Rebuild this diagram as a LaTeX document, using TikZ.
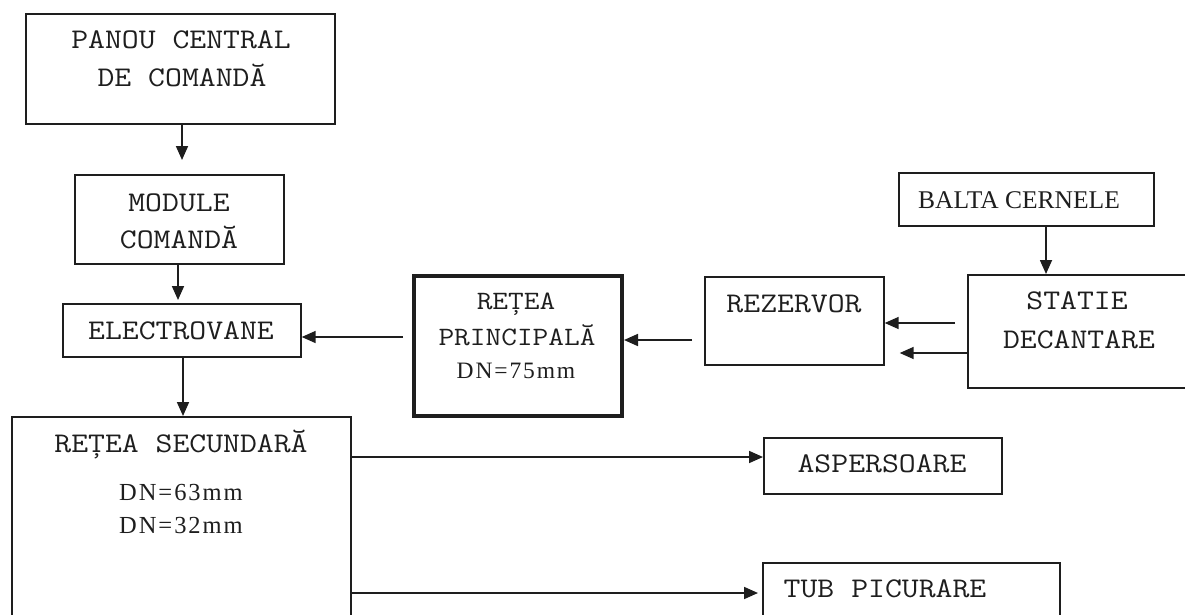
\documentclass[tikz,border=0pt]{standalone}
\usepackage{fontspec}
\setmainfont{Liberation Serif}
\newfontfamily\monof[FakeStretch=1.15]{Latin Modern Mono}
\newfontfamily\dnf[LetterSpace=8]{Liberation Serif}
\usetikzlibrary{arrows.meta}
\definecolor{ink}{HTML}{1E1E1E}
\begin{document}
\begin{tikzpicture}[x=1pt,y=-1pt,
  box/.style={draw=ink, line width=1.7pt, rectangle, inner sep=0pt, anchor=north west},
  thickbox/.style={box, line width=4pt},
  mono/.style={font=\monof\fontsize{#1}{#1}\selectfont, text=ink, inner sep=0pt, anchor=base},
  mono/.default=28.5,
  serif/.style={font=\fontsize{#1}{#1}\selectfont, text=ink, inner sep=0pt, anchor=base},
  serif/.default=26,
  dn/.style={font=\dnf\fontsize{#1}{#1}\selectfont, text=ink, inner sep=0pt, anchor=base},
  dn/.default=24.5,
  arr/.style={draw=ink, line width=1.7pt, -{Triangle[length=14pt,width=12pt]}}]
\useasboundingbox (0,0) rectangle (1185,615);
\clip (0,0) rectangle (1185,615);
\fill[white] (0,0) rectangle (1185,615);

% boxes
\node[box, minimum width=309pt, minimum height=110pt] (panou) at (25,13) {};
\node[box, minimum width=209pt, minimum height=89pt] (module) at (74,174) {};
\node[box, minimum width=238pt, minimum height=53pt] (electrovane) at (62,303) {};
\node[thickbox, minimum width=208pt, minimum height=140pt] (rprinc) at (412,274) {};
\node[box, minimum width=179pt, minimum height=88pt] (rezervor) at (704,276) {};
\node[box, minimum width=228pt, minimum height=113pt] (statie) at (967,274) {};
\node[box, minimum width=255pt, minimum height=53pt] (balta) at (898,172) {};
\node[box, minimum width=339pt, minimum height=214pt] (rsec) at (11,416) {};
\node[box, minimum width=238pt, minimum height=56pt] (asp) at (763,437) {};
\node[box, minimum width=297pt, minimum height=68pt] (tub) at (762,562) {};

% texts
\node[mono] (t-panou-a) at (181,49) {PANOU CENTRAL};
\node[mono] (t-panou-b) at (182,87) {DE COMANDĂ};
\node[mono] (t-mod-a) at (179,211) {MODULE};
\node[mono] (t-mod-b) at (179,248) {COMANDĂ};
\node[mono] (t-elv) at (181,339) {ELECTROVANE};
\node[mono=26.5] (t-rp-a) at (516,309) {REȚEA};
\node[mono=26.5] (t-rp-b) at (517,345) {PRINCIPALĂ};
\node[dn=23.5] (t-rp-c) at (516,378) {DN=75mm};
\node[mono] (t-rez) at (794,312) {REZERVOR};
\node[mono] (t-st-a) at (1077,309) {STATIE};
\node[mono] (t-st-b) at (1079,348) {DECANTARE};
\node[serif=25.5] (t-balta) at (1019,208.5) {BALTA CERNELE};
\node[mono] (t-rs) at (181,452) {REȚEA SECUNDARĂ};
\node[dn] (t-dn63) at (181,500.5) {DN=63mm};
\node[dn] (t-dn32) at (181,533.5) {DN=32mm};
\node[mono] (t-asp) at (882,472) {ASPERSOARE};
\node[mono] (t-tub) at (885,597) {TUB PICURARE};

% helper coordinates
\coordinate (x182) at (182,0);
\coordinate (x178) at (178,0);
\coordinate (x183) at (183,0);
\coordinate (x1046) at (1046,0);
\coordinate (c1) at (403,337);
\coordinate (c2) at (692,340);
\coordinate (c3) at (955,323);
\coordinate (y353) at (0,353);
\coordinate (y457) at (0,457);
\coordinate (y593) at (0,593);

% connectors
\draw[arr, shorten >=14pt] (panou.south -| x182) -- (module.north -| x182);
\draw[arr, shorten >=3pt] (module.south -| x178) -- (electrovane.north -| x178);
\draw[arr] (electrovane.south -| x183) -- (rsec.north -| x183);
\draw[arr] (c1) -- (c1 -| electrovane.east);
\draw[arr] (c2) -- (c2 -| rprinc.east);
\draw[arr] (c3) -- (c3 -| rezervor.east);
\draw[arr, shorten >=15pt] (statie.west |- y353) -- (rezervor.east |- y353);
\draw[arr] (balta.south -| x1046) -- (statie.north -| x1046);
\draw[arr] (rsec.east |- y457) -- (asp.west |- y457);
\draw[arr, shorten >=4pt] (rsec.east |- y593) -- (tub.west |- y593);
\end{tikzpicture}
\end{document}
